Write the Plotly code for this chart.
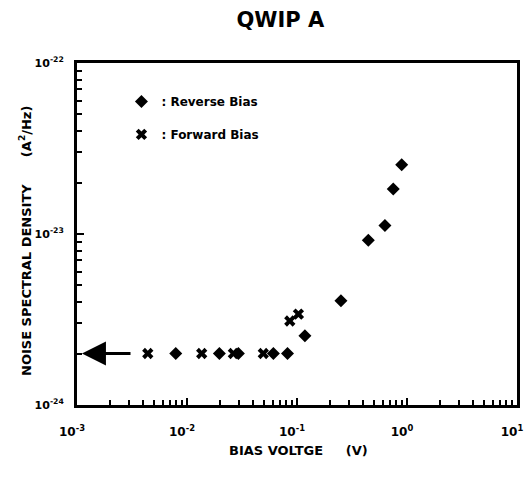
import plotly.graph_objects as go
import math

# Data
reverse_v = [0.0079, 0.0197, 0.0293, 0.061, 0.082, 0.118, 0.251, 0.445, 0.63, 0.75, 0.895]
reverse_s = [2e-24, 2e-24, 2e-24, 2e-24, 2e-24, 2.54e-24, 4.07e-24, 9.2e-24, 1.12e-23, 1.83e-23, 2.54e-23]
forward_v = [0.0044, 0.0136, 0.0264, 0.0494, 0.086, 0.103]
forward_s = [2e-24, 2e-24, 2e-24, 2e-24, 3.1e-24, 3.4e-24]

x_ticks = [1e-3, 1e-2, 1e-1, 1e0, 1e1]
x_ticktext = ["<b>10<sup>-3</sup></b>", "<b>10<sup>-2</sup></b>", "<b>10<sup>-1</sup></b>",
              "<b>10<sup>0</sup></b>", "<b>10<sup>1</sup></b>"]
y_ticks = [1e-24, 1e-23, 1e-22]
y_ticktext = ["<b>10<sup>-24</sup></b>", "<b>10<sup>-23</sup></b>", "<b>10<sup>-22</sup></b>"]

arrow_level = 2e-24

FONT = "DejaVu Sans, Liberation Sans, sans-serif"

fig = go.Figure()
fig.add_trace(go.Scatter(x=reverse_v, y=reverse_s, mode="markers", name="<b>: Reverse Bias</b>",
                         legendgroup="r",
                         marker=dict(symbol="diamond", size=10, color="black")))
fig.add_trace(go.Scatter(x=forward_v, y=forward_s, mode="markers", name="<b>: Forward Bias</b>",
                         legendgroup="f",
                         marker=dict(symbol="x", size=10, color="black",
                                     line=dict(width=0))))

fig.update_layout(
    width=524, height=480,
    margin=dict(l=77, r=7, t=63, b=75),
    paper_bgcolor="white", plot_bgcolor="white",
    font=dict(family=FONT, color="black", size=12),
    title=dict(text="<b>QWIP A</b>", x=0.535, xanchor="center", y=0.96, yanchor="middle",
               font=dict(size=21, family=FONT)),
    showlegend=True,
    legend=dict(x=0.101, y=0.93, xanchor="left", yanchor="top", bgcolor="rgba(0,0,0,0)",
                font=dict(size=12, family=FONT), itemwidth=30, tracegroupgap=14),
)

fig.update_xaxes(type="log", range=[-3, 1], showgrid=False, zeroline=False, automargin=False,
                 showline=True, linecolor="black", linewidth=3, mirror=True,
                 ticks="inside", ticklen=7, tickwidth=2, tickcolor="black",
                 tickvals=x_ticks, ticktext=x_ticktext, ticklabelstandoff=14,
                 ticklabelshift=-5, ticklabeloverflow="allow",
                 tickfont=dict(size=12, family=FONT),
                 minor=dict(ticks="inside", ticklen=5, tickwidth=2, tickcolor="black",
                            dtick="D1", showgrid=False))
fig.update_yaxes(type="log", range=[-24, -22], showgrid=False, zeroline=False, automargin=False,
                 showline=True, linecolor="black", linewidth=3, mirror=True,
                 ticks="inside", ticklen=7, tickwidth=2, tickcolor="black",
                 tickvals=y_ticks, ticktext=y_ticktext, ticklabelstandoff=8,
                 tickfont=dict(size=11, family=FONT),
                 minor=dict(ticks="inside", ticklen=5, tickwidth=2, tickcolor="black",
                            dtick="D1", showgrid=False))

fig.add_annotation(text="<b>BIAS VOLTGE     (V)</b>",
                   xref="paper", yref="paper", x=0.503, y=-0.134,
                   showarrow=False, font=dict(size=13, family=FONT), xanchor="center", yanchor="middle")

fig.add_annotation(text="<b>NOISE SPECTRAL DENSITY      (A<sup>2</sup>/Hz)</b>",
                   xref="paper", yref="paper", x=-0.118, y=0.48, textangle=-90,
                   showarrow=False, font=dict(size=13, family=FONT), xanchor="center", yanchor="middle")

fig.add_annotation(x=-2.955, y=math.log10(arrow_level), ax=-2.5, ay=math.log10(arrow_level),
                   xref="x", yref="y", axref="x", ayref="y", text="",
                   showarrow=True, arrowhead=2, arrowsize=1.6, arrowwidth=3, arrowcolor="black")

fig.write_html("out.html")
